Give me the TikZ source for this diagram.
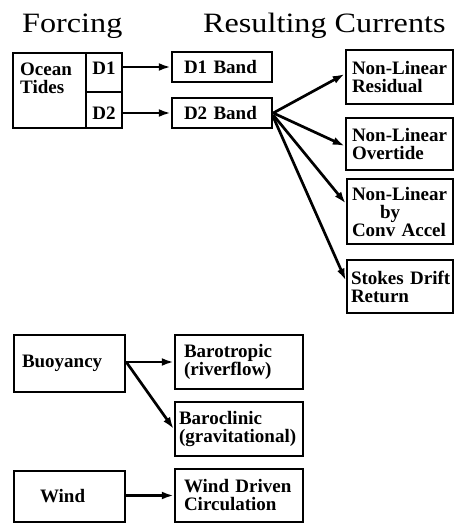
\documentclass[tikz,border=0pt]{standalone}
\usepackage{fontspec}
\setmainfont{Liberation Serif}
\newfontfamily\headfam{Liberation Serif}[FakeStretch=1.15]
\usetikzlibrary{arrows.meta}
\newcommand\boxfnt{\fontsize{19}{18}\selectfont\bfseries}
\newcommand\headfnt{\headfam\fontsize{28}{30}\selectfont}
\newcommand\nb[1]{\mbox{#1}}
\tikzset{
  box/.style={draw, line width=2.5pt, font=\boxfnt, align=left, inner ysep=0pt},
  cell/.style={draw, line width=2.5pt, inner sep=0pt},
  lbl/.style={font=\boxfnt, inner sep=0pt},
  head/.style={font=\headfnt, inner sep=0pt, anchor=base west},
  arr/.style={line width=2.7pt, -{Latex[length=12pt,width=8pt]}},
}
\begin{document}
\begin{tikzpicture}[x=1pt,y=-1pt]
\useasboundingbox (0,0) rectangle (456,523);
% headings
\node[head] (hforce) at (22,32) {Forcing};
\node[head] (hresult) at (203,32) {Resulting Currents};
% ocean tides
\node[cell, minimum width=73, minimum height=75] (ocean) at (49.5,90.5) {};
\node[cell, minimum width=36, minimum height=39] (d1cell) at (104,72.5) {};
\node[cell, minimum width=36, minimum height=36] (d2cell) at (104,110) {};
\node[lbl, align=left, anchor=north west] (oceanlbl) at (20,63) {Ocean\\Tides};
\node[lbl] (d1lbl) at (104,68) {D1};
\node[lbl] (d2lbl) at (104,113) {D2};
% bands
\node[box, minimum width=100, minimum height=30, inner xsep=12, text width=76] (d1band) at (222,67) {\nb{D1 Band}};
\node[box, minimum width=100, minimum height=30, inner xsep=12, text width=76] (d2band) at (222,113) {\nb{D2 Band}};
% right column
\node[box, minimum width=107, minimum height=54, inner xsep=6, text width=95] (residual) at (399.5,77) {\nb{Non-Linear}\\\nb{Residual}};
\node[box, minimum width=107, minimum height=52, inner xsep=6, text width=95] (overtide) at (399.5,144) {\nb{Non-Linear}\\\nb{Overtide}};
\node[box, minimum width=106, minimum height=65, inner xsep=5, text width=96] (convaccel) at (400,211.5) {\nb{Non-Linear}\\\hspace*{28pt}by\\\nb{Conv Accel}};
\node[box, minimum width=106, minimum height=53, inner xsep=4, text width=98] (stokes) at (400,286.5) {\nb{Stokes Drift}\\\nb{Return}};
% buoyancy
\node[box, minimum width=111, minimum height=57, inner xsep=8, text width=95] (buoy) at (69.5,363.5) {\nb{Buoyancy}};
\node[box, minimum width=128, minimum height=54, inner xsep=9, text width=110] (barotropic) at (239,362) {\nb{Barotropic}\\\nb{(riverflow)}};
\node[box, minimum width=128, minimum height=54, inner xsep=4, text width=120] (baroclinic) at (239,429) {\nb{Baroclinic}\\\nb{(gravitational)}};
% wind
\node[box, minimum width=111, minimum height=51, inner xsep=26, text width=59] (wind) at (69.5,496.5) {\nb{Wind}};
\node[box, minimum width=128, minimum height=53, inner xsep=9, text width=110] (winddriven) at (239,495.5) {\nb{Wind Driven}\\\nb{Circulation}};
% arrows
\draw[arr] (d1cell.east |- d1band.west) -- (d1band.west);
\draw[arr] (d2cell.east |- d2band.west) -- (d2band.west);
\draw[arr] (d2band.east) -- ([yshift=3pt]residual.west);
\draw[arr] (d2band.east) -- ([yshift=-2pt]overtide.west);
\draw[arr] ([yshift=-2pt]d2band.east) -- ([yshift=8pt]convaccel.west);
\draw[arr] ([yshift=-4pt]d2band.east) -- ([yshift=6pt]stokes.west);
\draw[arr] (buoy.east |- barotropic.west) -- (barotropic.west);
\draw[arr] (buoy.east |- barotropic.west) -- (baroclinic.west);
\draw[arr] (wind.east |- winddriven.west) -- (winddriven.west);
\end{tikzpicture}
\end{document}
